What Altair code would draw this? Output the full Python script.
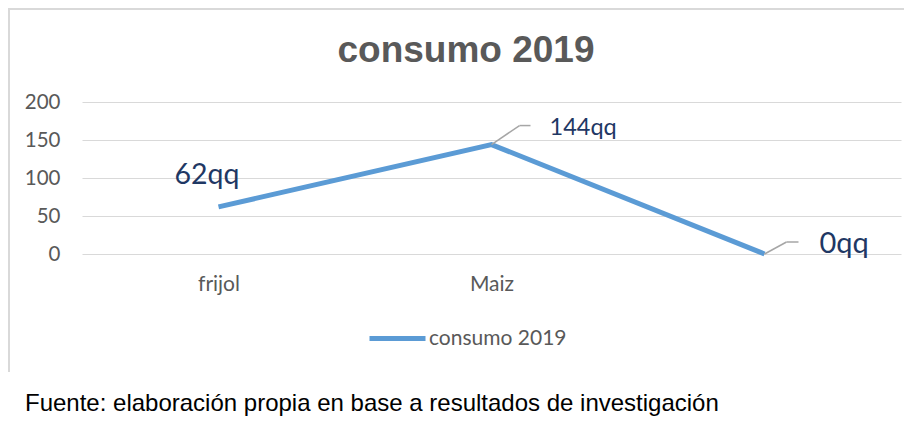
import altair as alt
import pandas as pd

categories = ["frijol", "Maiz", " "]
values = [62, 144, 0]
labels = ["62qq", "144qq", "0qq"]
series = "consumo 2019"
y_ticks = [0, 50, 100, 150, 200]
title_text = "consumo 2019"
source_text = "Fuente: elaboración propia en base a resultados de investigación"

df = pd.DataFrame({"cat": categories, "val": values, "lab": labels, "s": [series] * 3})

W, H = 819, 152
LINE_COLOR = "#5B9BD5"
LAB_COLOR = "#1F3864"
GRAY = "#595959"
LEADER = "#A6A6A6"

xscale = alt.Scale(type="point", domain=categories, padding=0.5)
yscale = alt.Scale(domain=[0, 200], nice=False)
xaxis = alt.Axis(title=None, labelAngle=0, domain=False, ticks=False,
                 labelPadding=19, labelFont="Lato", labelFontSize=21,
                 labelColor=GRAY, grid=False, labelOverlap=False)
yaxis = alt.Axis(title=None, values=y_ticks, domain=False, ticks=False,
                 labelPadding=22, labelFont="Lato", labelFontSize=20.5,
                 labelColor=GRAY, grid=True, gridColor="#D9D9D9",
                 gridWidth=1, labelOverlap=False)

X = lambda: alt.X("cat:N", sort=categories, scale=xscale, axis=xaxis)
Y = lambda: alt.Y("val:Q", scale=yscale, axis=yaxis)

base = alt.Chart(df)

line = base.mark_line(strokeWidth=5, strokeJoin="miter").encode(
    x=X(), y=Y(),
    color=alt.Color("s:N", scale=alt.Scale(domain=[series], range=[LINE_COLOR]),
                    legend=alt.Legend(title=None, orient="none", legendX=285, legendY=206,
                                      symbolType="stroke", symbolSize=3136,
                                      symbolStrokeWidth=5, labelFont="Lato",
                                      labelFontSize=21, labelColor=GRAY,
                                      labelOffset=1, padding=0)),
)

def lab_layer(name, dx, dy, size):
    return base.transform_filter(alt.datum.lab == name).mark_text(
        align="left", baseline="alphabetic", dx=dx, dy=dy, font="Lato",
        fontSize=size, color=LAB_COLOR).encode(x=X(), y=Y(), text="lab:N")

lab62 = lab_layer("62qq", -44, -23, 28.5)
lab144 = lab_layer("144qq", 58, -10, 23.5)
lab0 = lab_layer("0qq", 55, -1, 29)

def leader(name, dx, dy, hl):
    b = base.transform_filter(alt.datum.lab == name)
    diag = b.mark_rule(color=LEADER, strokeWidth=1.5, x2Offset=dx, y2Offset=dy).encode(
        x=X(), y=Y(), x2="cat:N", y2="val:Q")
    hor = b.mark_rule(color=LEADER, strokeWidth=1.5, xOffset=dx, yOffset=dy,
                      x2Offset=dx + hl, y2Offset=dy).encode(
        x=X(), y=Y(), x2="cat:N", y2="val:Q")
    return diag + hor

lead144 = leader("144qq", 28, -19, 11)
lead0 = leader("0qq", 22, -12, 12)

title = alt.Chart(pd.DataFrame({"t": [title_text]})).mark_text(
    align="center", baseline="alphabetic", font="Liberation Sans", fontWeight="bold",
    fontSize=37, color=GRAY).encode(x=alt.value(384), y=alt.value(-40), text="t:N")

source = alt.Chart(pd.DataFrame({"t": [source_text]})).mark_text(
    align="left", baseline="alphabetic", font="Liberation Sans",
    fontSize=24, color="#000000").encode(x=alt.value(-57), y=alt.value(309), text="t:N")

frame_top = alt.Chart(pd.DataFrame({"a": [0]})).mark_rule(color="#D9D9D9", strokeWidth=2).encode(
    x=alt.value(-74), x2=alt.value(822), y=alt.value(-93))
frame_left = alt.Chart(pd.DataFrame({"a": [0]})).mark_rule(color="#D9D9D9", strokeWidth=2).encode(
    x=alt.value(-73), y=alt.value(-94), y2=alt.value(270))

chart = alt.layer(frame_top, frame_left, line, lead144, lead0, lab62, lab144, lab0,
                  title, source).properties(
    width=W, height=H,
    autosize=alt.AutoSizeParams(type="none"),
    padding={"left": 74, "top": 94, "right": 3, "bottom": 167},
).configure(background="white").configure_view(stroke=None)

chart.save("out.html", embed_options={"renderer": "svg", "actions": False})
